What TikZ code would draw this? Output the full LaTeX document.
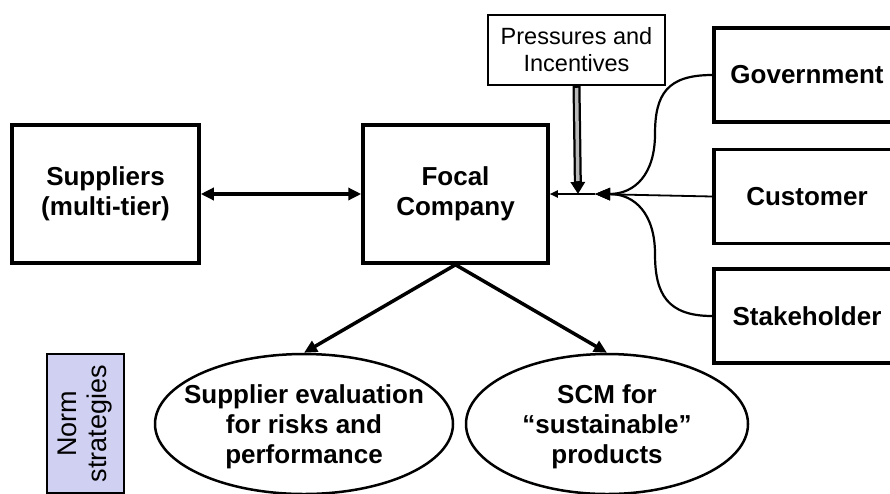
\documentclass[tikz,border=0pt]{standalone}
\usepackage{fontspec}
\setmainfont{Liberation Sans}
\usetikzlibrary{positioning, calc, arrows.meta, shapes.geometric}
\definecolor{normblue}{RGB}{208,208,242}

\begin{document}
\begin{tikzpicture}[x=1pt, y=-1pt,
		>={Triangle[length=13pt, width=12pt]},
		box/.style={draw, line width=3.5pt, inner sep=0pt, align=center, font=\bfseries\fontsize{26}{30}\selectfont},
		side/.style={box, minimum width=186pt, minimum height=94pt},
		oval/.style={ellipse, draw, line width=2.5pt, inner xsep=-40pt, inner ysep=-20pt, minimum height=140pt, text depth=0pt, align=center, font=\bfseries\fontsize{26}{30}\selectfont},
		small tip/.style={-{Triangle[length=8pt, width=7pt]}},
		join tip/.style={-{Triangle[length=15pt, width=12pt]}}
	]
		\useasboundingbox (0,0) rectangle (890,493);
		\clip (0,0) rectangle (890,493);
		
		\node[box, minimum width=187pt, minimum height=138pt] (suppliers) at (105.5,194) {Suppliers\\(multi-tier)};
		\node[box, minimum width=185pt, minimum height=138pt] (focal) at (455.5,194) {Focal\\Company};
		\draw[<->, line width=3.5pt] (suppliers) -- (focal);
		
		\node[draw, line width=2pt, inner sep=0pt, minimum width=177pt, minimum height=70pt, align=center, font=\fontsize{23.5}{27}\selectfont] (press) at (576.5,50) {Pressures and\\Incentives};
		
		\node[side] (gov) at (807,75) {Government};
		\node[side, below=24pt of gov] (cust) {Customer};
		\node[side, below=22pt of cust] (stake) {Stakeholder};
		
		\coordinate (J) at (578,194);
		\coordinate (H) at (595,194);
		\coordinate (GM) at (655,134);
		\coordinate (SM) at (655,254);
		
		% pressures come in as a hollow arrow
		\draw[line width=8pt, -{Triangle[length=12pt, width=14pt]}] (press.south) -- (J);
		\draw[line width=3.5pt, gray!55, shorten <=2pt, shorten >=13pt] (press.south) -- (J);
		
		\draw[line width=1.8pt, join tip] (cust.west) -- (H);
		\draw[line width=1.8pt, small tip] (H) -- (focal.east);
		\draw[line width=2.2pt, join tip] (gov.west) .. controls +(-45,0) and +(0,-40) .. (GM) .. controls +(0,40) and +(40,0) .. (H);
		\draw[line width=2.2pt, join tip] (stake.west) .. controls +(-45,0) and +(0,40) .. (SM) .. controls +(0,-40) and +(40,0) .. (H);
		
		\node[oval, minimum width=298pt] (eval) at (304,424) {Supplier evaluation\\for risks and\\performance};
		\node[oval, minimum width=282pt] (scm) at (607,424) {SCM for\\“sustainable”\\products};
		\draw[->, line width=3.5pt] (focal.south) -- (eval.north);
		\draw[->, line width=3.5pt] (focal.south) -- (scm.north);
		
		\node[draw, line width=1.5pt, fill=normblue, rotate=90, inner sep=0pt, minimum width=139pt, minimum height=77pt, align=center, font=\fontsize{27}{30}\selectfont] (norm) at (85.5,423.5) {Norm\\strategies};
	\end{tikzpicture}
\end{document}
